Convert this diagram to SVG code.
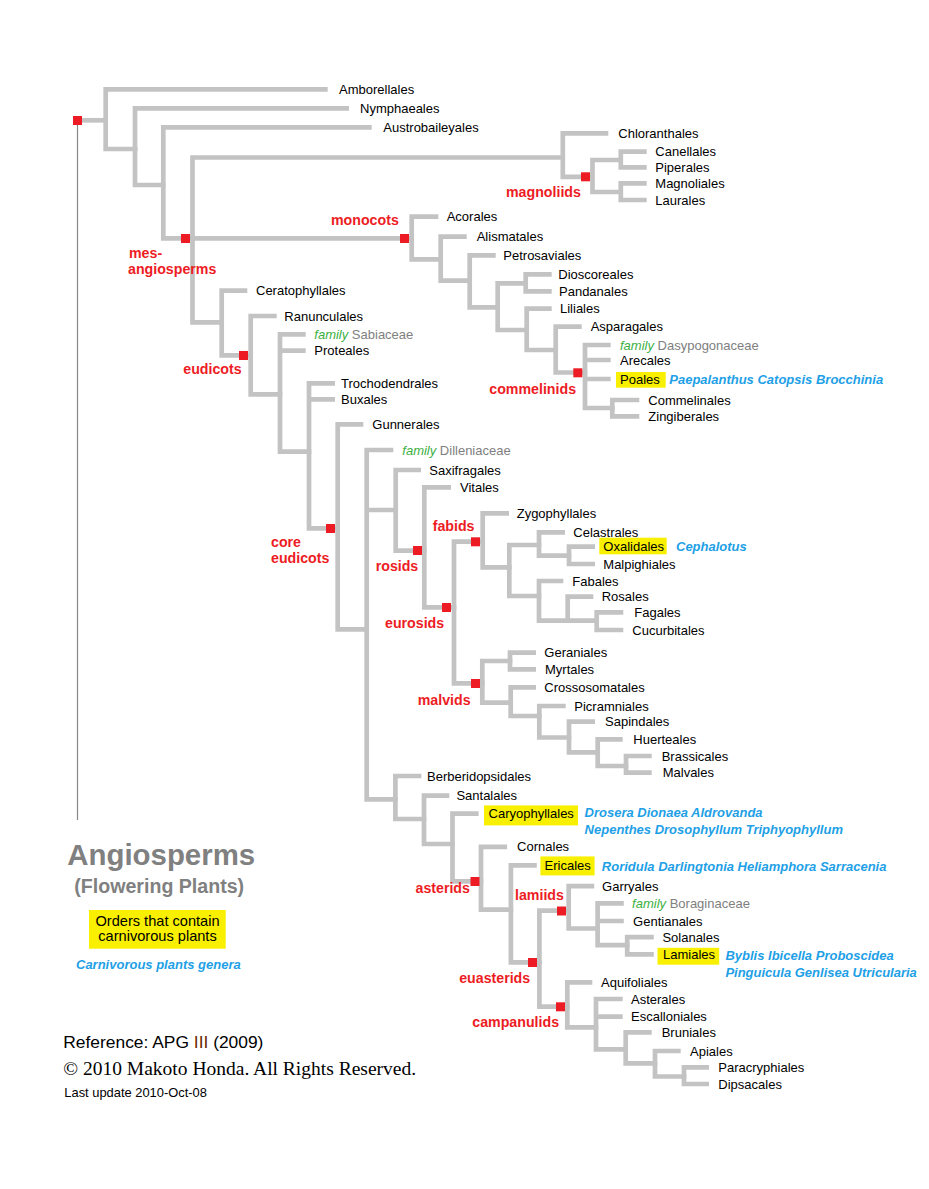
<svg xmlns="http://www.w3.org/2000/svg" width="929" height="1189" viewBox="0 0 929 1189">
<style>
.br{fill:none;stroke:#c3c3c3;stroke-width:4.7;stroke-linejoin:miter}
.nd{fill:#ed1c24}
text{font-family:"Liberation Sans",Arial,sans-serif}
.t{font-size:13px;fill:#000}
.fam{font-size:13px;fill:#808080}
.fw{fill:#3cb043;font-style:italic}
.cl{font-size:14.2px;font-weight:bold;fill:#ed1c24}
.gen{font-size:13px;font-weight:bold;font-style:italic;fill:#1e9fe6}
.hl{fill:#f8f000}
</style>
<rect width="929" height="1189" fill="#fff"/>
<g id="connectors">
<line x1="77.5" y1="125" x2="77.5" y2="820" stroke="#888" stroke-width="1.2"/>
<path class="br" d="M80,120.3 H105.7"/>
<path class="br" d="M327.7,89.3 H105.7 V149 H137.5"/>
<path class="br" d="M349,108.3 H135 V185 H165.5"/>
<path class="br" d="M371.7,127.3 H163.3 V238.3 H411.7"/>
<path class="br" d="M562.8,157.5 H192.5 V322.3 H224"/>
<path class="br" d="M608.3,133.3 H562.8 V176.8 H592.5"/>
<path class="br" d="M623,160 H592.5 V192 H623"/>
<path class="br" d="M646.7,151.7 H620.8 V167.3 H646.7"/>
<path class="br" d="M646.7,183.3 H620.8 V200 H646.7"/>
<path class="br" d="M438.3,216.7 H411.7 V259.3 H443"/>
<path class="br" d="M466.7,236.7 H440.7 V280.7 H472"/>
<path class="br" d="M495.7,255.3 H469.7 V307.3 H500"/>
<path class="br" d="M528,283.3 H497.7 V330 H529"/>
<path class="br" d="M551.7,274.3 H525.7 V291.3 H551.7"/>
<path class="br" d="M551.7,308.7 H526.7 V350 H558"/>
<path class="br" d="M581.7,326.7 H555.7 V372.5 H587.3"/>
<path class="br" d="M610.7,345 H585 V408 H614.6 M585,360 H610.7 M585,379 H610.7"/>
<path class="br" d="M639.3,400 H612.3 V416.3 H639.3"/>
<path class="br" d="M247.3,290.7 H221.7 V355.3 H253"/>
<path class="br" d="M276.7,316 H250.7 V394.3 H282.3"/>
<path class="br" d="M305.7,334.3 H280 V451.7 H311.3 M280,350.7 H305.7"/>
<path class="br" d="M335,383.3 H309 V528.3 H340 M309,399.3 H335"/>
<path class="br" d="M363.3,424.3 H337.7 V629.3 H369"/>
<path class="br" d="M393.3,450 H366.7 V799.3 H397.7 M366.7,510 H398"/>
<path class="br" d="M421,470 H395.7 V550.7 H426.6"/>
<path class="br" d="M451,487.3 H424.3 V607.3 H456.3"/>
<path class="br" d="M485,541.7 H454 V683.3 H484.6"/>
<path class="br" d="M509,513.3 H482.7 V567.3 H511.6"/>
<path class="br" d="M541.3,545 H509.3 V596 H541.3"/>
<path class="br" d="M565,532.3 H539 V555.7 H571.3"/>
<path class="br" d="M595,546.7 H569 V564 H595"/>
<path class="br" d="M563.3,581 H539 V620.7 H570"/>
<path class="br" d="M593.3,596.7 H567.7 V620.7 H599"/>
<path class="br" d="M623.3,612.3 H596.7 V630 H623.3"/>
<path class="br" d="M512.3,661 H482.3 V702.7 H513"/>
<path class="br" d="M536,652.7 H510 V669.3 H536"/>
<path class="br" d="M536,687.3 H510.7 V716 H541.6"/>
<path class="br" d="M565.7,706 H539.3 V737.5 H571.3"/>
<path class="br" d="M595,721.7 H569 V752.3 H600"/>
<path class="br" d="M622.7,739.3 H597.7 V766 H628.3"/>
<path class="br" d="M651.7,756 H626 V772.7 H651.7"/>
<path class="br" d="M421.4,776 H395.4 V819 H426.3"/>
<path class="br" d="M449.3,795.7 H424 V844 H454.8"/>
<path class="br" d="M478.6,813.6 H452.5 V881.4 H483.3"/>
<path class="br" d="M507.1,846.8 H481 V909.6 H513.2"/>
<path class="br" d="M536.8,865.4 H510.9 V962.3 H541.7"/>
<path class="br" d="M571,910.6 H539.4 V1006.7 H569.6"/>
<path class="br" d="M594.2,886.2 H568.7 V928.5 H599.9"/>
<path class="br" d="M623.8,903.4 H597.6 V945.1 H629.5 M597.6,921 H623.8"/>
<path class="br" d="M653.8,937.1 H627.2 V954.4 H653.8"/>
<path class="br" d="M592.3,982.3 H567.3 V1027.3 H598.3"/>
<path class="br" d="M622.7,999 H596 V1049.3 H628 M596,1016.7 H622.7"/>
<path class="br" d="M651.7,1032.3 H625.7 V1063.3 H657.3"/>
<path class="br" d="M680.7,1051 H655 V1076.5 H686.3"/>
<path class="br" d="M709,1067.3 H684 V1084 H709"/>
</g>
<g id="root"><rect class="nd" x="73" y="116" width="9" height="9"/></g>
<g id="mesangiosperms"><rect class="nd" x="181" y="234" width="9" height="9"/><text class="cl" x="129" y="258.3">mes-</text><text class="cl" x="128" y="274">angiosperms</text></g>
<g id="monocots"><rect class="nd" x="400" y="234" width="9" height="9"/><text class="cl" x="331" y="225">monocots</text></g>
<g id="magnoliids"><rect class="nd" x="581" y="172.3" width="9" height="9"/><text class="cl" x="506" y="197.3">magnoliids</text></g>
<g id="commelinids"><rect class="nd" x="573.3" y="368.3" width="9" height="9"/><text class="cl" x="489.3" y="394">commelinids</text></g>
<g id="eudicots"><rect class="nd" x="239" y="351" width="9" height="9"/><text class="cl" x="183.3" y="374.3">eudicots</text></g>
<g id="core-eudicots"><rect class="nd" x="326" y="524" width="9" height="9"/><text class="cl" x="271" y="546.7">core</text><text class="cl" x="271" y="562.7">eudicots</text></g>
<g id="rosids"><rect class="nd" x="413" y="546" width="9" height="9"/><text class="cl" x="375.7" y="571">rosids</text></g>
<g id="eurosids"><rect class="nd" x="442" y="603" width="9" height="9"/><text class="cl" x="385" y="627.7">eurosids</text></g>
<g id="fabids"><rect class="nd" x="471" y="537.3" width="9" height="9"/><text class="cl" x="432.7" y="531">fabids</text></g>
<g id="malvids"><rect class="nd" x="471" y="679" width="9" height="9"/><text class="cl" x="417.7" y="705">malvids</text></g>
<g id="asterids"><rect class="nd" x="470.5" y="877" width="9" height="9"/><text class="cl" x="415.5" y="893">asterids</text></g>
<g id="euasterids"><rect class="nd" x="528" y="958" width="9" height="9"/><text class="cl" x="459.2" y="983">euasterids</text></g>
<g id="lamiids"><rect class="nd" x="557" y="906.5" width="9" height="9"/><text class="cl" x="515" y="900.3">lamiids</text></g>
<g id="campanulids"><rect class="nd" x="556" y="1002.3" width="9" height="9"/><text class="cl" x="472.3" y="1027.3">campanulids</text></g>
<g id="n-amborellales"><text class="t" x="339" y="94">Amborellales</text></g>
<g id="n-nymphaeales"><text class="t" x="360" y="113">Nymphaeales</text></g>
<g id="n-austrobaileyales"><text class="t" x="383.3" y="132">Austrobaileyales</text></g>
<g id="n-chloranthales"><text class="t" x="618.3" y="138">Chloranthales</text></g>
<g id="n-canellales"><text class="t" x="655.3" y="156.3">Canellales</text></g>
<g id="n-piperales"><text class="t" x="655.3" y="172">Piperales</text></g>
<g id="n-magnoliales"><text class="t" x="655.3" y="188">Magnoliales</text></g>
<g id="n-laurales"><text class="t" x="655.3" y="204.6">Laurales</text></g>
<g id="n-acorales"><text class="t" x="446.7" y="221.3">Acorales</text></g>
<g id="n-alismatales"><text class="t" x="476.7" y="241.3">Alismatales</text></g>
<g id="n-petrosaviales"><text class="t" x="503.3" y="260">Petrosaviales</text></g>
<g id="n-dioscoreales"><text class="t" x="558.3" y="279">Dioscoreales</text></g>
<g id="n-pandanales"><text class="t" x="559" y="296">Pandanales</text></g>
<g id="n-liliales"><text class="t" x="560" y="313.3">Liliales</text></g>
<g id="n-asparagales"><text class="t" x="590.7" y="331.3">Asparagales</text></g>
<g id="n-dasypogonaceae"><text class="fam" x="620" y="349.6"><tspan class="fw">family</tspan> Dasypogonaceae</text></g>
<g id="n-arecales"><text class="t" x="620" y="364.6">Arecales</text></g>
<g id="n-poales"><rect class="hl" x="616" y="372" width="49.7" height="15.7"/><text class="t" x="620" y="383.6">Poales</text><text class="gen" x="669.3" y="384">Paepalanthus Catopsis Brocchinia</text></g>
<g id="n-commelinales"><text class="t" x="648.3" y="404.6">Commelinales</text></g>
<g id="n-zingiberales"><text class="t" x="648.3" y="421">Zingiberales</text></g>
<g id="n-ceratophyllales"><text class="t" x="256" y="295.3">Ceratophyllales</text></g>
<g id="n-ranunculales"><text class="t" x="284.3" y="320.6">Ranunculales</text></g>
<g id="n-sabiaceae"><text class="fam" x="314.3" y="339"><tspan class="fw">family</tspan> Sabiaceae</text></g>
<g id="n-proteales"><text class="t" x="314.3" y="355.3">Proteales</text></g>
<g id="n-trochodendrales"><text class="t" x="341" y="388">Trochodendrales</text></g>
<g id="n-buxales"><text class="t" x="341" y="404">Buxales</text></g>
<g id="n-gunnerales"><text class="t" x="372.3" y="429">Gunnerales</text></g>
<g id="n-dilleniaceae"><text class="fam" x="402.3" y="454.6"><tspan class="fw">family</tspan> Dilleniaceae</text></g>
<g id="n-saxifragales"><text class="t" x="429.3" y="474.6">Saxifragales</text></g>
<g id="n-vitales"><text class="t" x="460" y="492">Vitales</text></g>
<g id="n-zygophyllales"><text class="t" x="516.7" y="518">Zygophyllales</text></g>
<g id="n-celastrales"><text class="t" x="573.3" y="537">Celastrales</text></g>
<g id="n-oxalidales"><rect class="hl" x="599.3" y="537.7" width="67.4" height="16.6"/><text class="t" x="603.3" y="551.3">Oxalidales</text><text class="gen" x="676" y="551.3">Cephalotus</text></g>
<g id="n-malpighiales"><text class="t" x="603.3" y="568.6">Malpighiales</text></g>
<g id="n-fabales"><text class="t" x="572.3" y="585.6">Fabales</text></g>
<g id="n-rosales"><text class="t" x="601.7" y="601.3">Rosales</text></g>
<g id="n-fagales"><text class="t" x="634.3" y="617">Fagales</text></g>
<g id="n-cucurbitales"><text class="t" x="632.3" y="634.6">Cucurbitales</text></g>
<g id="n-geraniales"><text class="t" x="544.3" y="657.3">Geraniales</text></g>
<g id="n-myrtales"><text class="t" x="545" y="674">Myrtales</text></g>
<g id="n-crossosomatales"><text class="t" x="544.3" y="692">Crossosomatales</text></g>
<g id="n-picramniales"><text class="t" x="574.3" y="710.6">Picramniales</text></g>
<g id="n-sapindales"><text class="t" x="605" y="726.3">Sapindales</text></g>
<g id="n-huerteales"><text class="t" x="633.3" y="744">Huerteales</text></g>
<g id="n-brassicales"><text class="t" x="661.7" y="760.6">Brassicales</text></g>
<g id="n-malvales"><text class="t" x="662.7" y="777.3">Malvales</text></g>
<g id="n-berberidopsidales"><text class="t" x="427" y="780.6">Berberidopsidales</text></g>
<g id="n-santalales"><text class="t" x="456.4" y="800.3">Santalales</text></g>
<g id="n-caryophyllales"><rect class="hl" x="484" y="805.4" width="94" height="20"/><text class="t" x="488.6" y="818.2">Caryophyllales</text><text class="gen" x="584.6" y="817">Drosera Dionaea Aldrovanda</text><text class="gen" x="584.6" y="834.3">Nepenthes Drosophyllum Triphyophyllum</text></g>
<g id="n-cornales"><text class="t" x="517.1" y="851.4">Cornales</text></g>
<g id="n-ericales"><rect class="hl" x="540.4" y="856.4" width="54.2" height="19"/><text class="t" x="544.6" y="870">Ericales</text><text class="gen" x="601.8" y="871.4">Roridula Darlingtonia Heliamphora Sarracenia</text></g>
<g id="n-garryales"><text class="t" x="602.1" y="890.8">Garryales</text></g>
<g id="n-boraginaceae"><text class="fam" x="632.1" y="908"><tspan class="fw">family</tspan> Boraginaceae</text></g>
<g id="n-gentianales"><text class="t" x="633.1" y="925.6">Gentianales</text></g>
<g id="n-solanales"><text class="t" x="662.4" y="941.7">Solanales</text></g>
<g id="n-lamiales"><rect class="hl" x="657.5" y="947.8" width="61.7" height="16.9"/><text class="t" x="663" y="959">Lamiales</text><text class="gen" x="725.4" y="960.2">Byblis Ibicella Proboscidea</text><text class="gen" x="725.4" y="976.7">Pinguicula Genlisea Utricularia</text></g>
<g id="n-aquifoliales"><text class="t" x="601" y="986.9">Aquifoliales</text></g>
<g id="n-asterales"><text class="t" x="631" y="1003.6">Asterales</text></g>
<g id="n-escalloniales"><text class="t" x="631" y="1021.3">Escalloniales</text></g>
<g id="n-bruniales"><text class="t" x="661.7" y="1037">Bruniales</text></g>
<g id="n-apiales"><text class="t" x="690" y="1055.6">Apiales</text></g>
<g id="n-paracryphiales"><text class="t" x="718.3" y="1072">Paracryphiales</text></g>
<g id="n-dipsacales"><text class="t" x="718.3" y="1088.6">Dipsacales</text></g>
<g id="legend">
<text x="67.3" y="865" font-size="29.4" font-weight="bold" fill="#808080">Angiosperms</text>
<text x="74.3" y="893.3" font-size="19.6" font-weight="bold" fill="#808080">(Flowering Plants)</text>
<rect class="hl" x="89" y="910" width="136.7" height="38.7"/>
<text x="157.5" y="925.7" font-size="14.6" fill="#000" text-anchor="middle">Orders that contain</text>
<text x="157.5" y="941" font-size="14.6" fill="#000" text-anchor="middle">carnivorous plants</text>
<text class="gen" x="76" y="969">Carnivorous plants genera</text>
</g>
<g id="credits">
<text x="63.3" y="1048.3" font-size="17.4" fill="#000">Reference: APG <tspan fill="#6b2a00">III</tspan> (2009)</text>
<text x="63.3" y="1075" font-size="19.5" fill="#000" style="font-family:'Liberation Serif','Times New Roman',serif">© 2010 Makoto Honda. All Rights Reserved.</text>
<text x="64.3" y="1097.3" font-size="12.9" fill="#000">Last update 2010-Oct-08</text>
</g>
</svg>
